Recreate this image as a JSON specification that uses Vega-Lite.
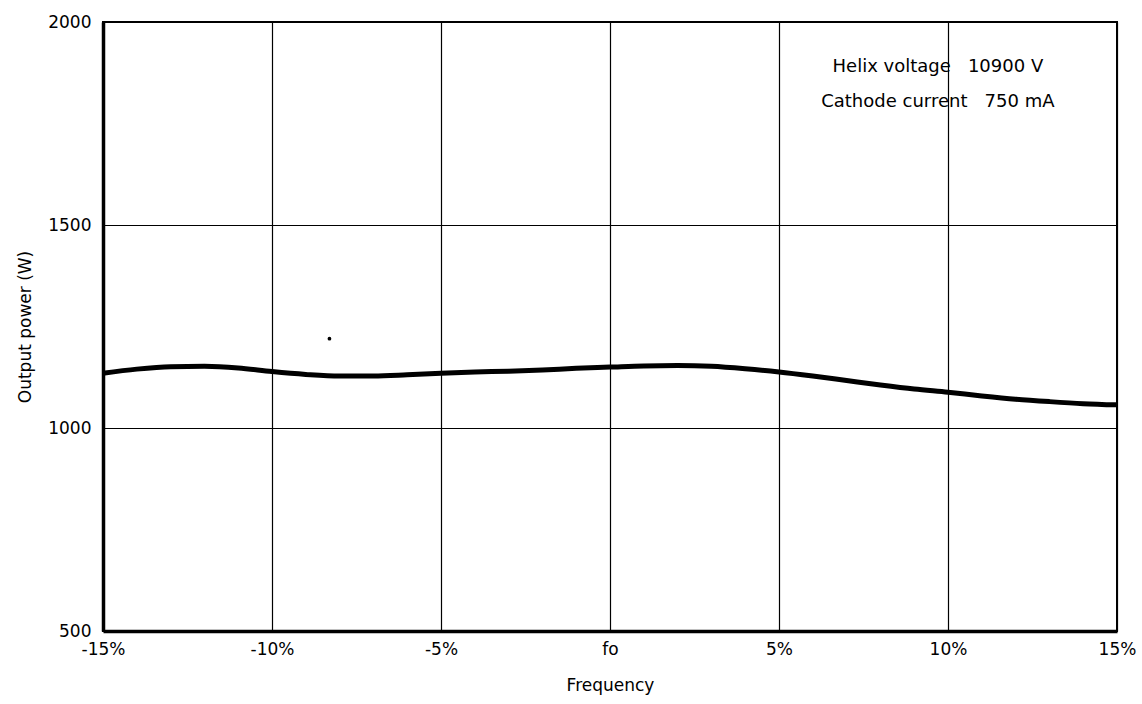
{
  "$schema": "https://vega.github.io/schema/vega-lite/v6.json",
  "autosize": {"type": "none"},
  "padding": {"left": 103, "top": 22, "right": 25, "bottom": 73},
  "width": 1014,
  "height": 609,
  "background": "white",
  "config": {
    "font": "DejaVu Sans",
    "view": {"stroke": "black", "strokeWidth": 2},
    "axis": {
      "grid": true,
      "gridColor": "black",
      "gridWidth": 1.2,
      "gridOpacity": 1,
      "domainColor": "black",
      "domainWidth": 3.5,
      "ticks": false,
      "labelColor": "black",
      "labelFontSize": 17,
      "labelFlush": false,
      "labelOverlap": false,
      "titleColor": "black",
      "titleFontSize": 17,
      "titleFontWeight": "normal"
    }
  },
  "layer": [
    {
      "data": {"values": [
        {"f": -15, "p": 1135},
        {"f": -14, "p": 1145},
        {"f": -13, "p": 1151},
        {"f": -12, "p": 1152},
        {"f": -11, "p": 1148},
        {"f": -10, "p": 1139},
        {"f": -9, "p": 1132},
        {"f": -8, "p": 1128},
        {"f": -7, "p": 1128},
        {"f": -6, "p": 1131},
        {"f": -5, "p": 1135},
        {"f": -4, "p": 1138},
        {"f": -3, "p": 1140},
        {"f": -2, "p": 1143},
        {"f": -1, "p": 1147},
        {"f": 0, "p": 1150},
        {"f": 1, "p": 1153},
        {"f": 2, "p": 1154},
        {"f": 3, "p": 1152},
        {"f": 4, "p": 1146},
        {"f": 5, "p": 1138},
        {"f": 6, "p": 1128},
        {"f": 7, "p": 1117},
        {"f": 8, "p": 1106},
        {"f": 9, "p": 1096},
        {"f": 10, "p": 1088},
        {"f": 11, "p": 1079},
        {"f": 12, "p": 1071},
        {"f": 13, "p": 1065},
        {"f": 14, "p": 1060},
        {"f": 15, "p": 1057}
      ]},
      "mark": {"type": "line", "color": "black", "strokeWidth": 5, "interpolate": "monotone"},
      "encoding": {
        "x": {
          "field": "f", "type": "quantitative",
          "scale": {"domain": [-15, 15], "nice": false, "zero": false},
          "axis": {
            "values": [-15, -10, -5, 0, 5, 10, 15],
            "labelExpr": "datum.value == 0 ? 'fo' : datum.value + '%'",
            "labelPadding": 10,
            "title": "Frequency",
            "titlePadding": 20
          }
        },
        "y": {
          "field": "p", "type": "quantitative",
          "scale": {"domain": [500, 2000], "nice": false, "zero": false},
          "axis": {
            "values": [500, 1000, 1500, 2000],
            "format": "d",
            "labelPadding": 12,
            "title": "Output power (W)",
            "titlePadding": 13
          }
        }
      }
    },
    {
      "data": {"values": [{"f": -8.3, "p": 1220}]},
      "mark": {"type": "point", "filled": true, "color": "black", "size": 14, "opacity": 1},
      "encoding": {
        "x": {"field": "f", "type": "quantitative"},
        "y": {"field": "p", "type": "quantitative"}
      }
    },
    {
      "data": {"values": [
        {"f": 9.7, "p": 1889, "t": "Helix voltage\u00a0\u00a0\u00a010900 V"},
        {"f": 9.7, "p": 1803, "t": "Cathode current\u00a0\u00a0\u00a0750 mA"}
      ]},
      "mark": {"type": "text", "color": "black", "fontSize": 18, "align": "center", "baseline": "middle"},
      "encoding": {
        "x": {"field": "f", "type": "quantitative"},
        "y": {"field": "p", "type": "quantitative"},
        "text": {"field": "t"}
      }
    }
  ]
}
